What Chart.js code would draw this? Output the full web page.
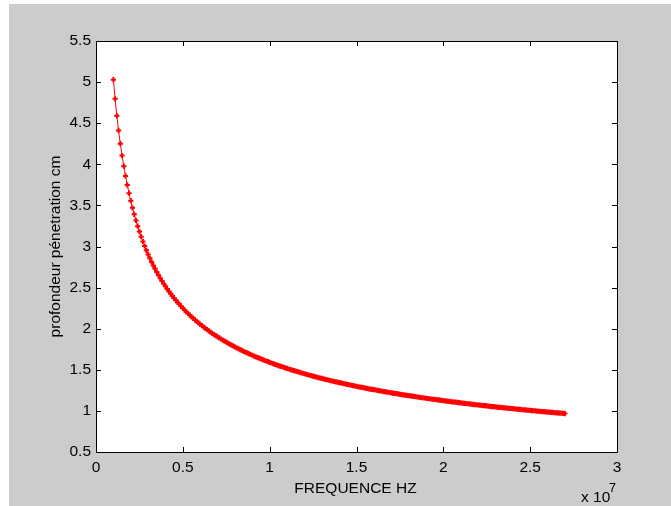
<!DOCTYPE html>
<html><head><meta charset="utf-8">
<script src="https://cdn.jsdelivr.net/npm/chart.js@4/dist/chart.umd.min.js"></script>
<style>html,body{margin:0;padding:0;background:#fff;overflow:hidden}canvas{position:absolute;left:0;top:0}</style>
</head><body>
<canvas id="c" width="671" height="506"></canvas>
<script>
// frequency in units of 10^7 Hz
const freq = [
0.10,0.11,0.12,0.13,0.14,0.15,0.16,0.17,0.18,0.19,
0.20,0.21,0.22,0.23,0.24,0.25,0.26,0.27,0.28,0.29,
0.30,0.31,0.32,0.33,0.34,0.35,0.36,0.37,0.38,0.39,
0.40,0.41,0.42,0.43,0.44,0.45,0.46,0.47,0.48,0.49,
0.50,0.51,0.52,0.53,0.54,0.55,0.56,0.57,0.58,0.59,
0.60,0.61,0.62,0.63,0.64,0.65,0.66,0.67,0.68,0.69,
0.70,0.71,0.72,0.73,0.74,0.75,0.76,0.77,0.78,0.79,
0.80,0.81,0.82,0.83,0.84,0.85,0.86,0.87,0.88,0.89,
0.90,0.91,0.92,0.93,0.94,0.95,0.96,0.97,0.98,0.99,
1.00,1.01,1.02,1.03,1.04,1.05,1.06,1.07,1.08,1.09,
1.10,1.11,1.12,1.13,1.14,1.15,1.16,1.17,1.18,1.19,
1.20,1.21,1.22,1.23,1.24,1.25,1.26,1.27,1.28,1.29,
1.30,1.31,1.32,1.33,1.34,1.35,1.36,1.37,1.38,1.39,
1.40,1.41,1.42,1.43,1.44,1.45,1.46,1.47,1.48,1.49,
1.50,1.51,1.52,1.53,1.54,1.55,1.56,1.57,1.58,1.59,
1.60,1.61,1.62,1.63,1.64,1.65,1.66,1.67,1.68,1.69,
1.70,1.71,1.72,1.73,1.74,1.75,1.76,1.77,1.78,1.79,
1.80,1.81,1.82,1.83,1.84,1.85,1.86,1.87,1.88,1.89,
1.90,1.91,1.92,1.93,1.94,1.95,1.96,1.97,1.98,1.99,
2.00,2.01,2.02,2.03,2.04,2.05,2.06,2.07,2.08,2.09,
2.10,2.11,2.12,2.13,2.14,2.15,2.16,2.17,2.18,2.19,
2.20,2.21,2.22,2.23,2.24,2.25,2.26,2.27,2.28,2.29,
2.30,2.31,2.32,2.33,2.34,2.35,2.36,2.37,2.38,2.39,
2.40,2.41,2.42,2.43,2.44,2.45,2.46,2.47,2.48,2.49,
2.50,2.51,2.52,2.53,2.54,2.55,2.56,2.57,2.58,2.59,
2.60,2.61,2.62,2.63,2.64,2.65,2.66,2.67,2.68,2.69,
2.70];
// penetration depth (cm)
const depth = [
5.030,4.796,4.592,4.412,4.251,4.107,3.977,3.858,3.749,3.649,
3.557,3.471,3.391,3.317,3.247,3.181,3.119,3.061,3.006,2.954,
2.904,2.857,2.812,2.769,2.728,2.689,2.651,2.615,2.580,2.547,
2.515,2.484,2.454,2.426,2.398,2.371,2.345,2.320,2.296,2.272,
2.249,2.227,2.206,2.185,2.165,2.145,2.126,2.107,2.089,2.071,
2.054,2.037,2.020,2.004,1.988,1.973,1.958,1.943,1.929,1.915,
1.901,1.888,1.875,1.862,1.849,1.837,1.825,1.813,1.801,1.790,
1.778,1.767,1.757,1.746,1.736,1.725,1.715,1.705,1.696,1.686,
1.677,1.667,1.658,1.649,1.641,1.632,1.623,1.615,1.607,1.599,
1.591,1.583,1.575,1.567,1.560,1.552,1.545,1.538,1.531,1.524,
1.517,1.510,1.503,1.496,1.490,1.483,1.477,1.471,1.464,1.458,
1.452,1.446,1.440,1.434,1.428,1.423,1.417,1.411,1.406,1.400,
1.395,1.390,1.384,1.379,1.374,1.369,1.364,1.359,1.354,1.349,
1.344,1.340,1.335,1.330,1.326,1.321,1.316,1.312,1.307,1.303,
1.299,1.294,1.290,1.286,1.282,1.278,1.274,1.269,1.265,1.261,
1.258,1.254,1.250,1.246,1.242,1.238,1.235,1.231,1.227,1.224,
1.220,1.216,1.213,1.209,1.206,1.202,1.199,1.196,1.192,1.189,
1.186,1.182,1.179,1.176,1.173,1.169,1.166,1.163,1.160,1.157,
1.154,1.151,1.148,1.145,1.142,1.139,1.136,1.133,1.130,1.128,
1.125,1.122,1.119,1.116,1.114,1.111,1.108,1.106,1.103,1.100,
1.098,1.095,1.092,1.090,1.087,1.085,1.082,1.080,1.077,1.075,
1.072,1.070,1.068,1.065,1.063,1.060,1.058,1.056,1.053,1.051,
1.049,1.047,1.044,1.042,1.040,1.038,1.035,1.033,1.031,1.029,
1.027,1.025,1.022,1.020,1.018,1.016,1.014,1.012,1.010,1.008,
1.006,1.004,1.002,1.000,0.998,0.996,0.994,0.992,0.990,0.988,
0.986,0.985,0.983,0.981,0.979,0.977,0.975,0.973,0.972,0.970,
0.968];
const xTicks = [0, 0.5, 1, 1.5, 2, 2.5, 3];
const yTicks = [0.5, 1, 1.5, 2, 2.5, 3, 3.5, 4, 4.5, 5, 5.5];
const xTitle = 'FREQUENCE HZ';
const yTitle = 'profondeur pénetration cm';
const xExpBase = 'x 10';
const xExp = '7';

const FONT = 'Liberation Sans, Arial, sans-serif';

const framePlugin = {
  id: 'frame',
  beforeDraw(chart) {
    const ctx = chart.ctx, a = chart.chartArea;
    ctx.save();
    ctx.fillStyle = '#ffffff';
    ctx.fillRect(0, 0, chart.width, chart.height);
    ctx.fillStyle = '#cccccc';
    ctx.fillRect(9, 4, chart.width - 9, chart.height - 4);
    ctx.fillStyle = '#ffffff';
    ctx.fillRect(a.left, a.top, a.right - a.left, a.bottom - a.top);
    ctx.restore();
  },
  afterDraw(chart) {
    const ctx = chart.ctx, a = chart.chartArea;
    const xs = chart.scales.x, ys = chart.scales.y;
    ctx.save();
    ctx.strokeStyle = '#000';
    ctx.lineWidth = 1;
    ctx.beginPath();
    ctx.rect(a.left + 0.5, a.top + 0.5, a.right - a.left, a.bottom - a.top);
    const L = 5;
    xTicks.forEach(v => {
      const px = Math.round(xs.getPixelForValue(v)) + 0.5;
      ctx.moveTo(px, a.bottom); ctx.lineTo(px, a.bottom - L);
      ctx.moveTo(px, a.top); ctx.lineTo(px, a.top + L);
    });
    yTicks.forEach(v => {
      const py = Math.round(ys.getPixelForValue(v)) + 0.5;
      ctx.moveTo(a.left, py); ctx.lineTo(a.left + L, py);
      ctx.moveTo(a.right, py); ctx.lineTo(a.right - L, py);
    });
    ctx.stroke();

    ctx.fillStyle = '#000';
    ctx.font = '15.5px ' + FONT;
    ctx.textAlign = 'center';
    ctx.textBaseline = 'alphabetic';
    ctx.fillText(xTitle, (a.left + a.right) / 2 - 1, 492.5);

    ctx.save();
    ctx.translate(59.5, (a.top + a.bottom) / 2);
    ctx.rotate(-Math.PI / 2);
    ctx.fillText(yTitle, 0, 0);
    ctx.restore();

    ctx.textAlign = 'left';
    ctx.fillText(xExpBase, 581, 501.5);
    ctx.font = '12.5px ' + FONT;
    ctx.fillText(xExp, 609, 491.5);
    ctx.restore();
  }
};

const tickFont = { family: FONT, size: 15.5 };
const fmt = v => String(v);

new Chart(document.getElementById('c'), {
  type: 'scatter',
  data: {
    datasets: [{
      data: freq.map((f, i) => ({ x: f, y: depth[i] })),
      showLine: true,
      borderColor: '#ff0000',
      borderWidth: 1,
      tension: 0,
      pointStyle: 'cross',
      pointRadius: 2.6,
      pointBorderWidth: 2,
      pointBorderColor: '#ff0000',
      pointBackgroundColor: '#ff0000',
      pointHoverRadius: 2.6
    }]
  },
  options: {
    responsive: false,
    animation: false,
    devicePixelRatio: 1,
    layout: { padding: { left: 0, top: 41, right: 54, bottom: 0 } },
    plugins: { legend: { display: false }, tooltip: { enabled: false } },
    scales: {
      x: {
        type: 'linear', min: 0, max: 3,
        afterBuildTicks: s => { s.ticks = xTicks.map(v => ({ value: v })); },
        afterFit: s => { s.height = 54; },
        grid: { display: false, drawTicks: false },
        border: { display: false },
        ticks: { font: tickFont, color: '#000', padding: 6, maxRotation: 0, autoSkip: false, callback: fmt }
      },
      y: {
        type: 'linear', min: 0.5, max: 5.5,
        afterBuildTicks: s => { s.ticks = yTicks.map(v => ({ value: v })); },
        afterFit: s => { s.width = 96; },
        grid: { display: false, drawTicks: false },
        border: { display: false },
        ticks: { font: tickFont, color: '#000', padding: 5, autoSkip: false, callback: fmt }
      }
    }
  },
  plugins: [framePlugin]
});
</script>
</body></html>
